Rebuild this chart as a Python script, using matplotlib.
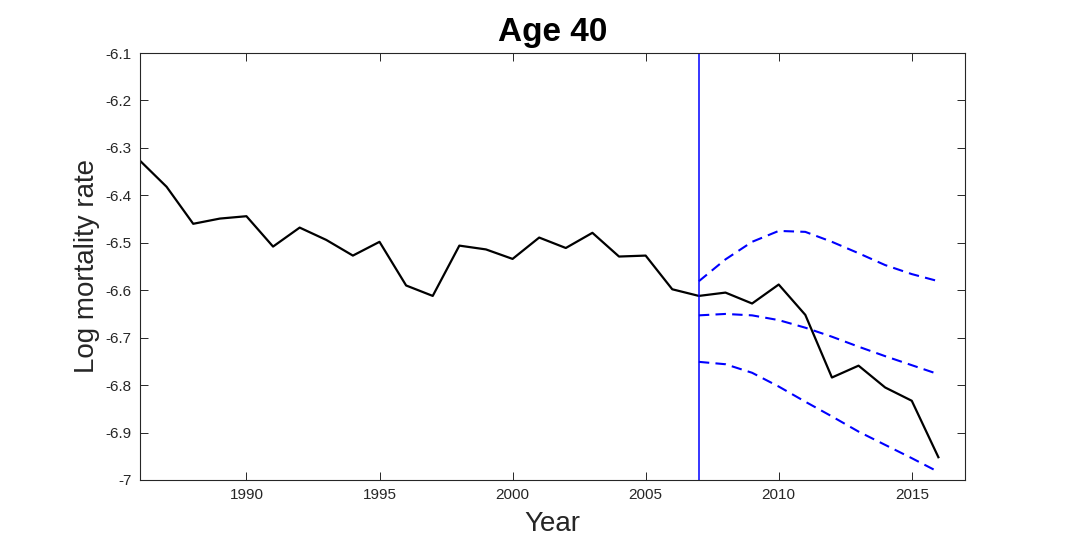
import matplotlib
matplotlib.use('Agg')
from matplotlib import pyplot as plt

plt.rcParams['font.family'] = ['Liberation Sans', 'DejaVu Sans']

# observed log mortality, age 40
years = list(range(1986, 2017))
observed = [-6.327, -6.382, -6.460, -6.449, -6.444, -6.508, -6.468, -6.494,
            -6.527, -6.498, -6.590, -6.612, -6.506, -6.514, -6.534, -6.489,
            -6.511, -6.479, -6.529, -6.527, -6.598, -6.612, -6.605, -6.628,
            -6.588, -6.652, -6.784, -6.759, -6.805, -6.833, -6.952]

# forecast from 2007 (median and bounds)
fc_years = list(range(2007, 2017))
fc_upper = [-6.581, -6.535, -6.498, -6.475, -6.477, -6.498, -6.522, -6.547, -6.566, -6.581]
fc_mid = [-6.653, -6.650, -6.653, -6.663, -6.679, -6.698, -6.719, -6.739, -6.758, -6.777]
fc_lower = [-6.751, -6.756, -6.774, -6.803, -6.835, -6.866, -6.898, -6.926, -6.954, -6.983]

cut_year = 2007
xticks = [1990, 1995, 2000, 2005, 2010, 2015]
yticks = [-7, -6.9, -6.8, -6.7, -6.6, -6.5, -6.4, -6.3, -6.2, -6.1]
ytick_labels = ['-7', '-6.9', '-6.8', '-6.7', '-6.6', '-6.5', '-6.4', '-6.3', '-6.2', '-6.1']

fig = plt.figure(figsize=(10.67, 5.47), dpi=100)
ax = fig.add_axes([0.1312, 0.1225, 0.7732, 0.7806])

ax.plot(years, observed, color='black', lw=1.6)
for band in (fc_upper, fc_mid, fc_lower):
    ax.plot(fc_years, band, color='#0000ff', lw=1.5, dashes=(5, 3))
ax.axvline(cut_year, color='#0000ff', lw=1.1)

ax.set_xlim(1986, 2017)
ax.set_ylim(-7, -6.1)
ax.set_xticks(xticks)
ax.set_yticks(yticks)
ax.set_yticklabels(ytick_labels)

ax.tick_params(direction='in', length=6, width=0.7, colors='#262626',
               labelsize=11, top=True, right=True, pad=6)
for s in ax.spines.values():
    s.set_linewidth(0.8)
    s.set_color('#262626')

ax.set_title('Age 40', fontsize=24, fontweight='bold', pad=9)
ax.set_xlabel('Year', fontsize=20, color='#262626', labelpad=6)
ax.set_ylabel('Log mortality rate', fontsize=20, color='#262626', labelpad=4)

fig.savefig('out.png', dpi=100)
